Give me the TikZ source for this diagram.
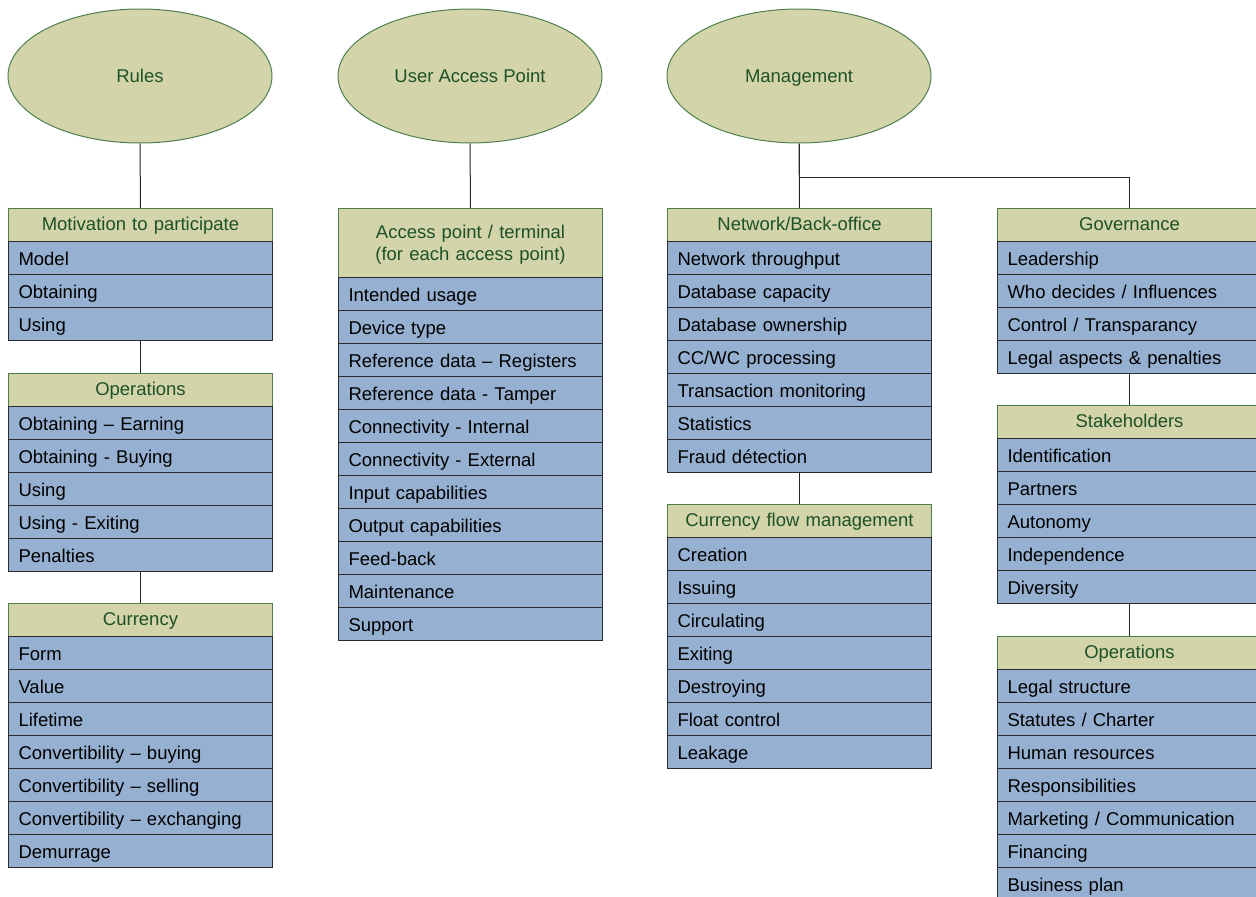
\documentclass[tikz,border=0pt]{standalone}
\usepackage{fontspec}
\setmainfont{Liberation Sans}
\usetikzlibrary{shapes.geometric}
\definecolor{hdrfill}{HTML}{D3D4A9}
\definecolor{hdrline}{HTML}{4F7F4F}
\definecolor{hdrtext}{HTML}{1E5128}
\definecolor{itmfill}{HTML}{95B0D0}
\definecolor{itmline}{HTML}{2B2B2B}
\tikzset{
  hdr/.style={rectangle, draw=hdrline, fill=hdrfill, line width=1pt, text=hdrtext,
    minimum width=264pt, text width=244pt, inner xsep=10pt, inner ysep=0pt, align=center,
    text height=13pt, text depth=2pt,
    font=\fontsize{18.5}{22}\selectfont},
  hdrtwo/.style={text height=13pt, text depth=22pt},
  itm/.style={rectangle, draw=itmline, fill=itmfill, line width=1pt, text=black,
    minimum width=264pt, minimum height=33pt, text width=244pt, inner xsep=10pt, inner ysep=0pt,
    text height=15pt, text depth=0pt,
    align=left, anchor=north west, font=\fontsize{18.5}{22}\selectfont},
  oval/.style={ellipse, draw=hdrline, fill=hdrfill, line width=1pt, text=hdrtext,
    minimum width=264pt, minimum height=134pt, inner sep=0pt, text height=13pt, text depth=0pt,
    font=\fontsize{18.5}{22}\selectfont},
  conn/.style={draw=black!85, line width=1pt}
}
\newcommand{\mkcol}[7][]{%
  \node[hdr, #1, minimum height=#6pt, anchor=north west] (#2h) at (#3,#4) {#5};
  \foreach \t [count=\i] in {#7} {
    \node[itm] (#2\i) at (#3,{#4+#6+(\i-1)*33}) {\t};
  }
}
\begin{document}
\begin{tikzpicture}[x=1pt,y=-1pt]
\useasboundingbox (0,0) rectangle (1256,897);
\clip (0,0) rectangle (1256,897);
\node[oval] (rules) at (140,76) {Rules};
\node[oval] (uap) at (470,76) {User Access Point};
\node[oval] (mgmt) at (799,76) {Management};

\mkcol{motiv}{8}{208}{Motivation to participate}{33}{Model,Obtaining,Using}
\mkcol{opa}{8}{373}{Operations}{33}{Obtaining – Earning,Obtaining - Buying,Using,Using - Exiting,Penalties}
\mkcol{curr}{8}{603}{Currency}{33}{Form,Value,Lifetime,Convertibility – buying,Convertibility – selling,Convertibility – exchanging,Demurrage}

\mkcol[hdrtwo]{acc}{338}{208}{Access point / terminal\\(for each access point)}{69}{Intended usage,Device type,Reference data – Registers,Reference data - Tamper,Connectivity - Internal,Connectivity - External,Input capabilities,Output capabilities,Feed-back,Maintenance,Support}

\mkcol{net}{667}{208}{Network/Back-office}{33}{Network throughput,Database capacity,Database ownership,CC/WC processing,Transaction monitoring,Statistics,Fraud détection}
\mkcol{cfm}{667}{504}{Currency flow management}{33}{Creation,Issuing,Circulating,Exiting,Destroying,Float control,Leakage}

\mkcol{gov}{997}{208}{Governance}{33}{Leadership,Who decides / Influences,Control / Transparancy,Legal aspects \& penalties}
\mkcol{stk}{997}{405}{Stakeholders}{33}{Identification,Partners,Autonomy,Independence,Diversity}
\mkcol{opb}{997}{636}{Operations}{33}{Legal structure,Statutes / Charter,Human resources,Responsibilities,Marketing / Communication,Financing,Business plan}

\draw[conn] (rules.south) -- (motivh.north);
\draw[conn] (motiv3.south) -- (opah.north);
\draw[conn] (opa5.south) -- (currh.north);
\draw[conn] (uap.south) -- (acch.north);
\coordinate (mj) at (799,177);
\draw[conn] (mgmt.south) -- (neth.north);
\draw[conn] (mgmt.south) -- (mj) -| (govh.north);
\draw[conn] (net7.south) -- (cfmh.north);
\draw[conn] (gov4.south) -- (stkh.north);
\draw[conn] (stk5.south) -- (opbh.north);
\end{tikzpicture}
\end{document}
